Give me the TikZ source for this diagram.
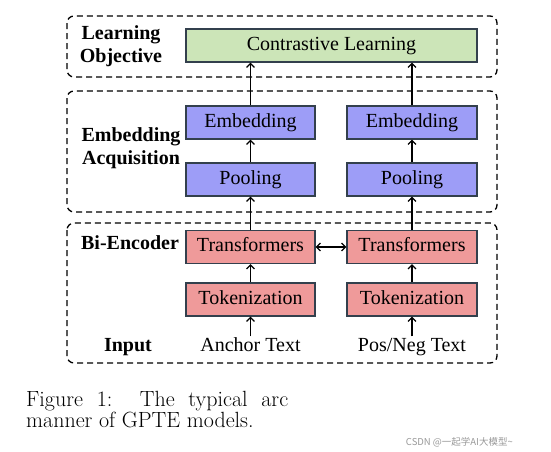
\documentclass[tikz,border=0pt]{standalone}
\usepackage{fontspec}
\setmainfont{Liberation Serif}
\newfontfamily\lmfont{Latin Modern Roman}
\newfontfamily\cjkfont{Noto Sans CJK SC}
\usetikzlibrary{arrows.meta}
\definecolor{gfill}{HTML}{CCE5B8}
\definecolor{bfill}{HTML}{9D9DF7}
\definecolor{rfill}{HTML}{EF9A9A}
\definecolor{bordc}{HTML}{33404D}
\tikzset{
  stagebox/.style={draw=bordc, line width=1.2pt, minimum height=33pt, inner sep=0pt,
    font=\fontsize{20}{22}\selectfont, text depth=4pt, text height=13pt},
  greenbox/.style={stagebox, fill=gfill},
  bluebox/.style={stagebox, fill=bfill},
  redbox/.style={stagebox, fill=rfill},
  group/.style={draw=black, line width=1.3pt, dash pattern=on 6pt off 4pt, rounded corners=7pt},
  lbl/.style={font=\bfseries\fontsize{20}{23}\selectfont, align=center, inner sep=0pt},
  intext/.style={font=\fontsize{20}{22}\selectfont, inner sep=0pt, text depth=4pt, text height=13pt},
  captext/.style={anchor=base west, inner sep=0pt, font=\lmfont\fontsize{22}{20}\selectfont},
  flow/.style={line width=1.2pt, -{Straight Barb[length=4pt,width=8pt,line width=1.2pt]}},
  bflow/.style={line width=1.2pt, {Straight Barb[length=4pt,width=8pt,line width=1.2pt]}-{Straight Barb[length=4pt,width=8pt,line width=1.2pt]}}
}
\begin{document}
\begin{tikzpicture}[x=1pt,y=-1pt]
\useasboundingbox[fill=white] (0,0) rectangle (551,451);
% group frames
\draw[group] (67,16) rectangle (497,77);
\draw[group] (67,91) rectangle (497,212);
\draw[group] (67,223) rectangle (497,363);
% group labels
\node[lbl] (lo) at (121,46.5) {Learning\\Objective};
\node[lbl] (ea) at (131,148.5) {Embedding\\Acquisition};
\node[lbl, anchor=center] (be) at (130,243) {Bi-Encoder};
\node[lbl] (inp) at (128,347) {Input};
% boxes
\node[greenbox, minimum width=291pt] (cl) at (331.5,45.5) {Contrastive Learning};
\node[bluebox, minimum width=129pt] (emb1) at (250.5,122.5) {Embedding};
\node[bluebox, minimum width=130pt] (emb2) at (412,122.5) {Embedding};
\node[bluebox, minimum width=129pt] (pool1) at (250.5,179.5) {Pooling};
\node[bluebox, minimum width=130pt] (pool2) at (412,179.5) {Pooling};
\node[redbox, minimum width=129pt] (tr1) at (250.5,247) {Transformers};
\node[redbox, minimum width=130pt] (tr2) at (412,247) {Transformers};
\node[redbox, minimum width=129pt] (tok1) at (250.5,299.5) {Tokenization};
\node[redbox, minimum width=130pt] (tok2) at (412,299.5) {Tokenization};
\node[intext] (a1) at (250.5,347) {Anchor Text};
\node[intext] (a2) at (412,347) {Pos/Neg Text};
% connectors
\draw[flow] (a1.north) ++(0,-2) coordinate (a1t) -- (tok1.south);
\draw[flow] (a2.north) ++(0,-2) coordinate (a2t) -- (tok2.south);
\draw[flow] (tok1) -- (tr1);
\draw[flow] (tok2) -- (tr2);
\draw[flow] (tr1) -- (pool1);
\draw[flow] (tr2) -- (pool2);
\draw[flow] (pool1) -- (emb1);
\draw[flow] (pool2) -- (emb2);
\draw[flow] (emb1.north) -- (emb1.north |- cl.south);
\draw[flow] (emb2.north) -- (emb2.north |- cl.south);
\draw[bflow] (tr1.east) -- (tr2.west);
% caption
\node[captext] (cap1) at (26,406.5)
  {\makebox[262pt][s]{Figure 1:\ \ The typical arc}};
\node[captext] (cap2) at (26,427.5)
  {manner of GPTE models.};
\node[anchor=base east, inner sep=0pt, text=black!40, font=\cjkfont\fontsize{9.5}{11}\selectfont] (wm) at (513,445)
  {CSDN @一起学AI大模型\textasciitilde};
\end{tikzpicture}
\end{document}
